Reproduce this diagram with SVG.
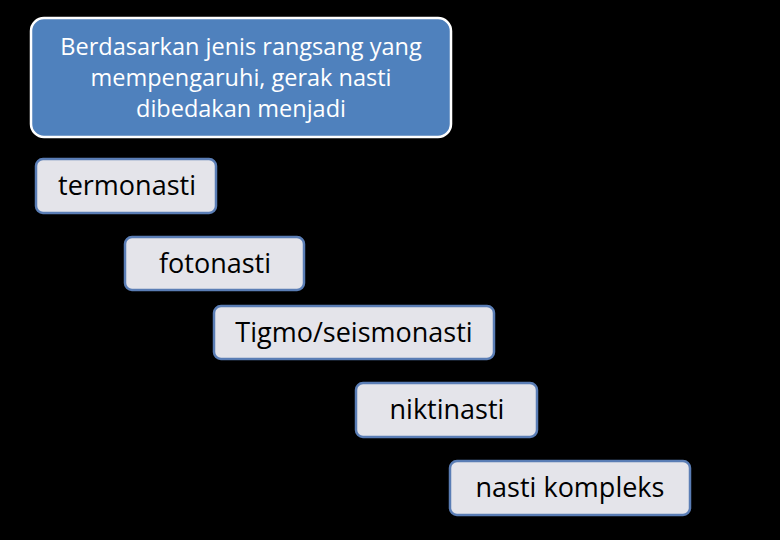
<svg xmlns="http://www.w3.org/2000/svg" width="780" height="540" viewBox="0 0 780 540">
<style>
.bg{fill:#000}
.head{fill:#4f81bd;stroke:#ffffff;stroke-width:2.5}
.item{fill:#e4e4ea;stroke:#5a7db5;stroke-width:2.5}
.ht{font-family:"Open Sans","Noto Sans",sans-serif;font-size:23.5px;fill:#ffffff;text-anchor:middle}
.it{font-family:"Open Sans","Noto Sans",sans-serif;font-size:27px;fill:#000000;text-anchor:middle}
</style>
<rect class="bg" x="0" y="0" width="780" height="540"/>
<g id="connectors"></g>
<g id="header">
<rect class="head" x="31" y="18" width="420" height="119" rx="13"/>
<text class="ht" x="241" y="55">Berdasarkan jenis rangsang yang</text>
<text class="ht" x="241" y="86">mempengaruhi, gerak nasti</text>
<text class="ht" x="241" y="117">dibedakan menjadi</text>
</g>
<g id="termonasti">
<rect class="item" x="36" y="159" width="180" height="54" rx="7"/>
<text class="it" x="127" y="195">termonasti</text>
</g>
<g id="fotonasti">
<rect class="item" x="125" y="237" width="179" height="53" rx="7"/>
<text class="it" x="215" y="273">fotonasti</text>
</g>
<g id="tigmo">
<rect class="item" x="214" y="306" width="280" height="53" rx="7"/>
<text class="it" x="354" y="342">Tigmo/seismonasti</text>
</g>
<g id="niktinasti">
<rect class="item" x="356" y="383" width="181" height="54" rx="7"/>
<text class="it" x="447" y="419">niktinasti</text>
</g>
<g id="kompleks">
<rect class="item" x="450" y="461" width="240" height="54" rx="7"/>
<text class="it" x="570" y="497">nasti kompleks</text>
</g>
</svg>
